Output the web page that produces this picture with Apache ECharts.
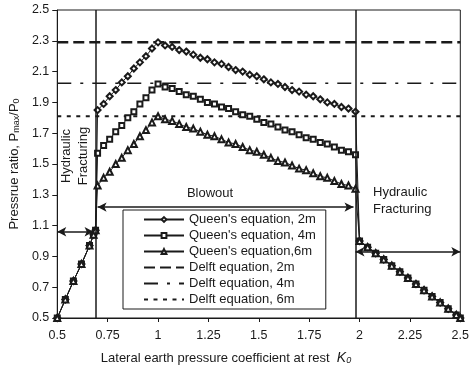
<!DOCTYPE html>
<html>
<head>
<meta charset="utf-8">
<title>Pressure ratio</title>
<style>
  html, body { margin: 0; padding: 0; background: #fff; }
  #chart-container { width: 472px; height: 366px; }
</style>
<script src="https://cdn.jsdelivr.net/npm/echarts@6/dist/echarts.min.js"></script>
</head>
<body>
<div id="chart-container"></div>
<script>
  // hydraulic fracturing, low K0 (same for all depths)
  var kLow = [0.5, 0.54, 0.58, 0.62, 0.66, 0.68, 0.69];
  var pLow = [0.5, 0.62, 0.74, 0.85, 0.97, 1.04, 1.07];

  // blowout, rising part
  var kRise = [0.7, 0.73, 0.76, 0.79, 0.82, 0.85, 0.88, 0.91, 0.94, 0.97, 1.0];
  var rise2m = [1.85, 1.89, 1.94, 1.98, 2.03, 2.07, 2.12, 2.16, 2.20, 2.25, 2.29];
  var rise4m = [1.57, 1.62, 1.66, 1.71, 1.75, 1.80, 1.84, 1.89, 1.93, 1.98, 2.02];
  var rise6m = [1.36, 1.41, 1.45, 1.50, 1.54, 1.59, 1.63, 1.68, 1.72, 1.77, 1.81];

  // blowout, falling part
  var kFall = [1.0, 1.035, 1.07, 1.105, 1.14, 1.175, 1.21, 1.245, 1.28, 1.315, 1.35, 1.385, 1.42, 1.455,
    1.49, 1.525, 1.56, 1.595, 1.63, 1.665, 1.7, 1.735, 1.77, 1.805, 1.84, 1.875, 1.91, 1.945, 1.98];
  var fall2m = [2.29, 2.27, 2.26, 2.24, 2.23, 2.21, 2.19, 2.18, 2.16, 2.15, 2.13, 2.11, 2.10, 2.08,
    2.07, 2.05, 2.03, 2.02, 2.00, 1.98, 1.97, 1.95, 1.94, 1.92, 1.90, 1.89, 1.87, 1.86, 1.84];
  var fall4m = [2.02, 2.00, 1.99, 1.97, 1.95, 1.94, 1.92, 1.90, 1.89, 1.87, 1.86, 1.84, 1.82, 1.81,
    1.79, 1.77, 1.76, 1.74, 1.72, 1.71, 1.69, 1.67, 1.66, 1.64, 1.63, 1.61, 1.59, 1.58, 1.56];
  var fall6m = [1.81, 1.79, 1.78, 1.76, 1.74, 1.73, 1.71, 1.69, 1.68, 1.66, 1.64, 1.63, 1.61, 1.59,
    1.58, 1.56, 1.54, 1.52, 1.51, 1.49, 1.47, 1.46, 1.44, 1.42, 1.41, 1.39, 1.37, 1.36, 1.34];

  // hydraulic fracturing, high K0
  var kHigh = [2.0, 2.04, 2.08, 2.12, 2.16, 2.2, 2.24, 2.28, 2.32, 2.36, 2.4, 2.44, 2.48, 2.5];
  var pHigh = [1.0, 0.96, 0.92, 0.88, 0.84, 0.8, 0.76, 0.72, 0.68, 0.64, 0.6, 0.56, 0.52, 0.5];

  // Delft equation (constant)
  var kDelft = [0.5, 2.5];
  var delft2m = 2.29;
  var delft4m = 2.025;
  var delft6m = 1.81;

  // zone boundaries and arrows
  var boundaries = [0.695, 1.975];
  var arrows = [
    [[0.5, 1.06], [0.68, 1.06]],
    [[0.70, 1.22], [1.97, 1.22]],
    [[1.98, 0.93], [2.5, 0.93]]
  ];

  var seriesNames = ["Queen's equation, 2m", "Queen's equation, 4m", "Queen's equation,6m",
    "Delft equation, 2m", "Delft equation, 4m", "Delft equation, 6m"];

  var FONT = "Liberation Sans, Arial, sans-serif";
  var INK = "#1a1a1a";

  function pairs(k, p) {
    var out = [];
    for (var i = 0; i < k.length; i++) out.push([k[i], p[i]]);
    return out;
  }

  function queen(rise, fall) {
    return pairs(kLow, pLow)
      .concat(pairs(kRise, rise))
      .concat(pairs(kFall.slice(1), fall.slice(1)))
      .concat(pairs(kHigh, pHigh));
  }

  function flat(v) {
    return [[kDelft[0], v], [kDelft[1], v]];
  }

  var myChart = echarts.init(document.getElementById("chart-container"), null, { renderer: "canvas" });

  var queenBase = {
    type: "line",
    lineStyle: { color: INK, width: 1 },
    itemStyle: { color: INK, borderColor: INK, borderWidth: 1 },
    z: 3
  };

  // legend: no marker for the Delft lines
  var legendData = seriesNames.map(function (n, i) {
    return i < 3 ? { name: n } : { name: n, itemStyle: { color: "transparent", borderColor: "transparent" } };
  });

  var option = {
    animation: false,
    textStyle: { fontFamily: FONT, color: INK },
    grid: { left: 53, right: 5, top: 10, bottom: 48, show: true, borderColor: INK, borderWidth: 1 },
    xAxis: {
      type: "value",
      min: 0.5,
      max: 2.5,
      interval: 0.25,
      axisLine: { onZero: false, lineStyle: { color: INK } },
      axisTick: { inside: false, length: 4, lineStyle: { color: INK } },
      axisLabel: { color: INK, fontSize: 12.5, fontFamily: FONT, margin: 11 },
      splitLine: { show: false }
    },
    yAxis: {
      type: "value",
      min: 0.5,
      max: 2.5,
      interval: 0.2,
      axisLine: { show: true, onZero: false, lineStyle: { color: INK } },
      axisTick: { show: true, length: 5, lineStyle: { color: INK } },
      axisLabel: {
        color: INK, fontSize: 12.5, fontFamily: FONT, margin: 8,
        formatter: function (v) { return v.toFixed(1); }
      },
      splitLine: { show: false },
      name: "{t|Pressrue ratio, P}{s|max}{t|/P}{s|0}",
      nameLocation: "middle",
      nameGap: 33,
      nameTextStyle: {
        rich: {
          t: { fontSize: 13, fontFamily: FONT, color: INK, lineHeight: 16, verticalAlign: "bottom" },
          s: { fontSize: 9, fontFamily: FONT, color: INK, lineHeight: 11, verticalAlign: "bottom" }
        }
      }
    },
    legend: {
      data: legendData,
      orient: "vertical",
      left: 123,
      top: 210,
      padding: [3, 10, 3, 20],
      itemWidth: 40,
      itemHeight: 6,
      itemGap: 3,
      backgroundColor: "#fff",
      borderColor: INK,
      borderWidth: 1,
      borderRadius: 0,
      textStyle: { fontSize: 13, fontFamily: FONT, color: INK, lineHeight: 13 },
      z: 10
    },
    series: [
      Object.assign({}, queenBase, { name: seriesNames[0], symbol: "emptyDiamond", symbolSize: 6, data: queen(rise2m, fall2m) }),
      Object.assign({}, queenBase, { name: seriesNames[1], symbol: "emptyRect", symbolSize: 5, data: queen(rise4m, fall4m) }),
      Object.assign({}, queenBase, { name: seriesNames[2], symbol: "emptyTriangle", symbolSize: 6, data: queen(rise6m, fall6m) }),
      {
        name: seriesNames[3], type: "line", symbol: "none", data: flat(delft2m),
        lineStyle: { color: INK, width: 2.5, type: [11, 5] }, itemStyle: { color: INK }, z: 2
      },
      {
        name: seriesNames[4], type: "line", symbol: "none", data: flat(delft4m),
        lineStyle: { color: INK, width: 1.5, type: [14, 9, 3, 9] }, itemStyle: { color: INK }, z: 2
      },
      {
        name: seriesNames[5], type: "line", symbol: "none", data: flat(delft6m),
        lineStyle: { color: INK, width: 2, type: [4, 5.5] }, itemStyle: { color: INK }, z: 2
      },
      {
        // zone boundaries
        name: "bounds", type: "line", data: [],
        markLine: {
          silent: true, symbol: "none", label: { show: false },
          lineStyle: { color: INK, width: 1.5, type: "solid" },
          data: boundaries.map(function (b) { return { xAxis: b }; })
        }
      },
      {
        // double-headed arrows
        name: "arrows", type: "line", data: [],
        markLine: {
          silent: true, symbol: ["arrow", "arrow"], symbolSize: [7, 9], label: { show: false },
          lineStyle: { color: INK, width: 1.5, type: "solid" },
          itemStyle: { color: INK },
          data: arrows.map(function (a) { return [{ coord: a[0] }, { coord: a[1] }]; })
        }
      }
    ],
    graphic: [
      {
        type: "text", x: 75, y: 156, rotation: Math.PI / 2,
        style: {
          text: "Hydraulic\nFracturing", fill: INK, font: "13px " + FONT,
          align: "center", verticalAlign: "middle", lineHeight: 17
        }
      },
      {
        type: "text", x: 210, y: 193,
        style: { text: "Blowout", fill: INK, font: "13px " + FONT, align: "center", verticalAlign: "middle" }
      },
      {
        type: "text", x: 373, y: 201,
        style: {
          text: "Hydraulic\nFracturing", fill: INK, font: "13px " + FONT,
          align: "left", verticalAlign: "middle", lineHeight: 17
        }
      },
      {
        type: "text", x: 226, y: 357,
        style: {
          text: "{t|Lateral earth pressure coefficient at rest  }{k|K}{s|0}",
          align: "center", verticalAlign: "middle",
          rich: {
            t: { fontSize: 13, fontFamily: FONT, fill: INK, lineHeight: 16, verticalAlign: "bottom" },
            k: { fontSize: 14, fontFamily: FONT, fontStyle: "italic", fill: INK, lineHeight: 16, verticalAlign: "bottom" },
            s: { fontSize: 9, fontFamily: FONT, fontStyle: "italic", fill: INK, lineHeight: 11, verticalAlign: "bottom" }
          }
        }
      }
    ]
  };

  myChart.setOption(option);
</script>
</body>
</html>
